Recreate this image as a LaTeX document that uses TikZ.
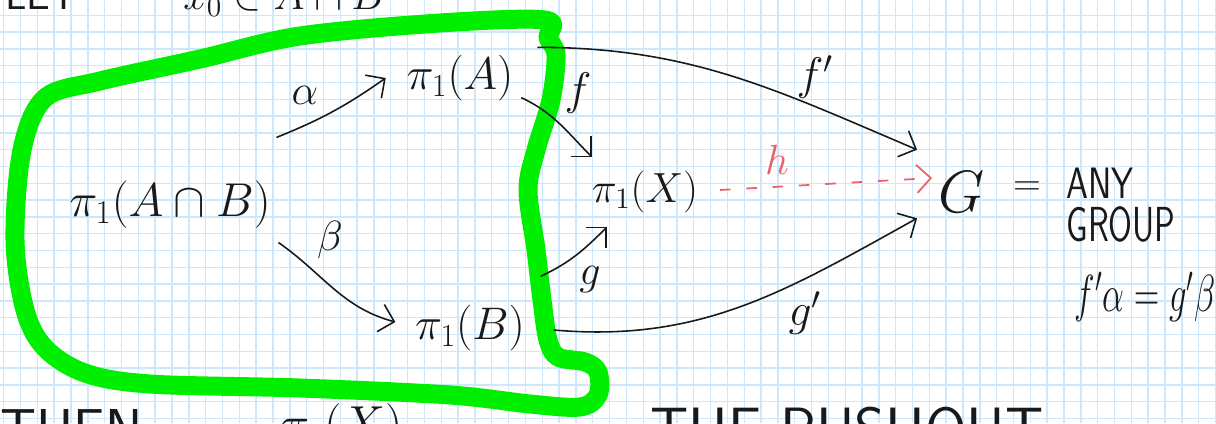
\RequirePackage{fix-cm}
\documentclass[tikz,border=0pt]{standalone}
\usepackage{amsmath}
\usepackage{xcolor}
\usepackage{tikz}
\usetikzlibrary{arrows.meta}

\definecolor{gridblue}{RGB}{206,232,250}
\definecolor{marker}{RGB}{0,238,0}
\definecolor{pencil}{RGB}{232,98,108}
\definecolor{ink}{RGB}{25,25,25}

\begin{document}
\begin{tikzpicture}[x=0.02cm, y=0.02cm]
        \tikzstyle{grid} = [draw=gridblue, line width=0.8pt]
        \tikzstyle{obj} = [inner sep=2pt, text=ink]
        \tikzstyle{lbl} = [inner sep=0pt, text=ink]
        \tikzstyle{line} = [draw=ink, line width=0.9pt, -{Straight Barb[length=8pt,width=16pt]}]
        \tikzstyle{dline} = [draw=pencil, line width=1pt, dash pattern=on 6pt off 9pt, -{Straight Barb[length=8pt,width=16pt]}]

        \fill[white] (0,0) rectangle (1216,423);
        \useasboundingbox (0,0) rectangle (1216,423);
        \foreach \i in {0,...,72} \draw[grid] ({3.7+16.83*\i},0) -- ({3.7+16.83*\i},423);
        \foreach \j in {0,...,25} \draw[grid] (0,{407.7-16.8*\j}) -- (1216,{407.7-16.8*\j});

        \draw[marker, line width=0.38cm, line join=round] plot[smooth cycle, tension=0.55] coordinates {
            (545,403) (440,400) (300,387) (200,364) (100,342) (45,325) (22,273) (15,183)
            (25,113) (45,75) (85,50) (150,39) (300,35) (450,28) (530,19) (580,16)
            (598,28) (598,51) (585,61) (558,66) (548,83) (542,123) (536,173) (528,233)
            (536,273) (551,323) (556,368) (548,385)};

        \node [lbl, font=\sffamily\fontsize{24}{28}\selectfont, anchor=base west] (lettext) at (5,413) {LET};
        \node [lbl, font=\fontsize{24}{28}\selectfont, anchor=base west] (hyp) at (183,413) {$x_0\in A\cap B$};
        \node [lbl, font=\sffamily\fontsize{32}{36}\selectfont, anchor=north west] (then) at (0,14) {THEN};
        \node [lbl, font=\fontsize{28}{32}\selectfont, anchor=north west] (pix) at (280,20) {$\pi_1(X)$};
        \node [lbl, font=\sffamily\fontsize{34}{38}\selectfont, anchor=north west] (push) at (650,16) {THE PUSHOUT};

        \node [obj, font=\fontsize{27}{32}\selectfont] (ab) at (170,218) {$\pi_1(A\cap B)$};
        \node [obj, font=\fontsize{26}{30}\selectfont] (pa) at (460,345) {$\pi_1(A)$};
        \node [obj, font=\fontsize{24}{28}\selectfont] (px) at (645,231) {$\pi_1(X)$};
        \node [obj, font=\fontsize{26}{30}\selectfont] (pb) at (470,95) {$\pi_1(B)$};
        \node [obj, font=\fontsize{34}{40}\selectfont] (grp) at (962,231) {$G$};
        \node [lbl, font=\fontsize{22}{26}\selectfont] (eqs) at (1027,234) {$=$};
        \node [lbl, font=\sffamily\fontsize{25}{28}\selectfont] (any) at (1100,240) {\scalebox{0.8}[1]{ANY}};
        \node [lbl, font=\sffamily\fontsize{28}{32}\selectfont] (group) at (1121,199) {\scalebox{0.7}[1]{GROUP}};
        \node [lbl, font=\fontsize{22}{26}\selectfont] (rel) at (1145,126) {\scalebox{0.9}[1.35]{$f'\alpha = g'\beta$}};

        \node [lbl, font=\fontsize{24}{28}\selectfont] (alab) at (305,328) {$\alpha$};
        \node [lbl, font=\fontsize{24}{28}\selectfont] (blab) at (330,183) {$\beta$};
        \node [lbl, font=\fontsize{26}{30}\selectfont] (flab) at (578,330) {$f$};
        \node [lbl, font=\fontsize{24}{28}\selectfont] (glab) at (590,143) {$g$};
        \node [lbl, font=\fontsize{26}{30}\selectfont] (fplab) at (815,346) {$f'$};
        \node [lbl, font=\fontsize{26}{30}\selectfont] (gplab) at (805,110) {$g'$};
        \node [lbl, text=pencil, font=\fontsize{24}{28}\selectfont] (hlab) at (777,263) {$h$};

        \path [line] ([shift={(2,40)}]ab.north east) to[out=22,in=215] ([shift={(-17,0)}]pa.west);
        \path [line] ([shift={(4,-10)}]ab.south east) to[out=-35,in=165] ([shift={(-16,6)}]pb.west);
        \path [line] ([shift={(4,7)}]pa.south east) to[out=-25,in=135] ([shift={(4,10)}]px.north west);
        \path [line] ([shift={(12,25)}]pb.north east) to[out=25,in=225] ([shift={(19,-10)}]px.south west);
        \path [line] ([shift={(20,4)}]pa.north east) to[out=0,in=157] ([shift={(-18,18)}]grp.north west);
        \path [line] ([shift={(25,-2)}]pb.east) to[out=-5,in=209] ([shift={(-18,-2)}]grp.south west);
        \path [dline] ([shift={(18,2)}]px.east) -- ([shift={(-3,14)}]grp.west);
    \end{tikzpicture}
\end{document}
